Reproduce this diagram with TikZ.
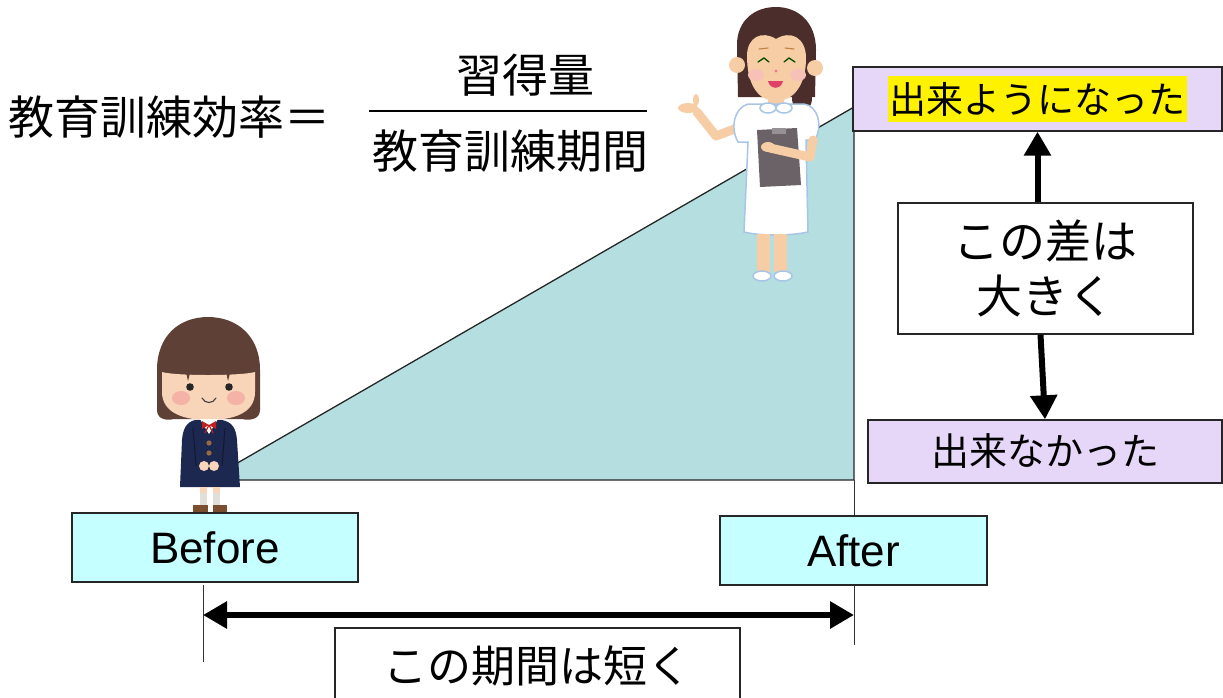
\documentclass[tikz,border=0pt]{standalone}
\usepackage{fontspec}
\setmainfont{Liberation Sans}
\newfontfamily\jp{Noto Sans CJK JP}
\usetikzlibrary{arrows.meta}

\definecolor{tri}{RGB}{180,222,224}
\definecolor{cyanbox}{RGB}{198,255,255}
\definecolor{lav}{RGB}{230,214,248}
\definecolor{hair}{RGB}{94,64,54}
\definecolor{nhair}{RGB}{75,46,43}
\definecolor{skin}{RGB}{248,212,184}
\definecolor{nskin}{RGB}{247,205,165}
\definecolor{navy}{RGB}{28,40,80}
\definecolor{cheek}{RGB}{245,178,166}
\definecolor{bow}{RGB}{192,33,31}
\definecolor{btn}{RGB}{155,106,60}
\definecolor{sock}{RGB}{224,224,216}
\definecolor{shoe}{RGB}{122,78,46}
\definecolor{outl}{RGB}{169,197,230}
\definecolor{board}{RGB}{106,98,102}
\definecolor{mouth}{RGB}{224,64,106}

\tikzset{
  box/.style={draw=black!85, line width=1.4pt, inner sep=0pt},
  bigarrow/.style={line width=6pt, -{Triangle[length=24pt,width=26pt]}},
  bothway/.style={line width=6pt, {Triangle[length=24pt,width=26pt]}-{Triangle[length=24pt,width=26pt]}},
  tick/.style={line width=1pt, black!80},
  jpbig/.style={font=\jp\fontsize{46pt}{55pt}\selectfont},
  jpmid/.style={font=\jp\fontsize{44pt}{55pt}\selectfont},
  jpsmall/.style={font=\jp\fontsize{37pt}{44pt}\selectfont},
  latin/.style={font=\fontsize{44pt}{50pt}\selectfont},
  dress/.style={fill=white, draw=outl, line width=1.5pt},
}

\begin{document}
\begin{tikzpicture}[x=1pt, y=-1pt]
\useasboundingbox (0,0) rectangle (1223,697);

% growth triangle
\coordinate (t0) at (208,480);
\coordinate (t1) at (854,480);
\coordinate (t2) at (854,107);
\filldraw[fill=tri, draw=black!85, line width=1.3pt] (t0) -- (t1) -- (t2) -- cycle;

% time markers
\coordinate (rTop) at (854,480);
\coordinate (rBot) at (854,645);
\coordinate (lTop) at (203,585);
\coordinate (lBot) at (203,662);
\draw[tick] (rTop) -- (rBot);
\draw[tick] (lTop) -- (lBot);

% formula
\node[jpbig, anchor=west, inner sep=0pt] (eff) at (8,117) {教育訓練効率＝};
\node[jpbig, inner sep=0pt] (num) at (525,75) {習得量};
\node[jpbig, inner sep=0pt] (den) at (510,151) {教育訓練期間};
\coordinate (fracL) at (369,111);
\coordinate (fracR) at (647,111);
\draw[line width=2.8pt] (fracL) -- (fracR);

% result boxes on the right
\node[box, fill=lav, minimum width=369pt, minimum height=64pt] (good) at (1037.5,99) {};
\node[jpsmall, fill=yellow, inner xsep=1.5pt, inner ysep=0pt, minimum height=46pt] (goodtxt) at (good.center) {出来ようになった};
\node[box, fill=white, minimum width=295pt, minimum height=131pt, align=center, jpbig] (diff) at (1045.5,268.5) {この差は\\大きく};
\node[box, fill=lav, minimum width=354pt, minimum height=63pt, font=\jp\fontsize{38pt}{44pt}\selectfont] (bad) at (1045,451.5) {出来なかった};

\draw[bigarrow] (diff.north -| good.south) -- (good.south);
\draw[bigarrow] ([xshift=-5pt]diff.south) -- (bad.north);

% before / after labels
\node[box, fill=cyanbox, minimum width=286pt, minimum height=69pt, latin] (before) at (215,547.5) {Before};
\node[box, fill=cyanbox, minimum width=267pt, minimum height=69pt, latin] (after) at (853.5,550.5) {After};

% training period
\coordinate (pL) at (203,615);
\coordinate (pR) at (854,615);
\draw[bothway] (pL) -- (pR);
\node[box, fill=white, minimum width=405pt, minimum height=76pt, jpmid] (period) at (537.5,666) {この期間は短く};

% ---- schoolgirl (before) ----
\fill[hair] (157,410) -- (157,370) .. controls (157,335) and (180,317) .. (208,317)
  .. controls (236,317) and (260,335) .. (260,370) -- (260,410)
  .. controls (260,419) and (250,421) .. (242,419) -- (174,419)
  .. controls (166,421) and (157,419) .. (157,410) -- cycle;
\fill[skin] (162,372) -- (162,392) .. controls (162,414) and (186,420) .. (208,420)
  .. controls (232,420) and (255,414) .. (255,392) -- (255,372)
  .. controls (240,376) and (176,376) .. (162,372) -- cycle;
\fill[hair] (186,372) -- (188,381) -- (190,373) -- cycle;
\fill[hair] (226,372) -- (228,381) -- (230,373) -- cycle;
\fill[cheek] (181,398) ellipse [x radius=9, y radius=7];
\fill[cheek] (236,398) ellipse [x radius=9, y radius=7];
\fill[black!85] (190,387) circle [radius=3.8];
\fill[black!85] (229,387) circle [radius=3.8];
\draw[line width=1.1pt, black!75, line cap=round] (202,398) .. controls (205,404) and (213,404) .. (216,398);
\fill[navy] (195,420) -- (222,420) .. controls (232,422) and (236,428) .. (237,440)
  -- (240,487) -- (180,487) -- (182,440) .. controls (183,428) and (187,422) .. (195,420) -- cycle;
\fill[white] (200,419) -- (218,419) -- (209,434) -- cycle;
\fill[bow] (209,425) -- (202,421) -- (202,429) -- cycle;
\fill[bow] (209,425) -- (216,421) -- (216,429) -- cycle;
\draw[bow, line width=1.2pt] (209,425) -- (205,433) (209,425) -- (213,433);
\fill[btn] (209,443) circle [radius=2.6];
\fill[btn] (209,453) circle [radius=2.6];
\draw[navy!60!black, line width=1pt] (193,428) -- (196,466) (225,428) -- (222,466);
\fill[skin] (204,466) circle [radius=5];
\fill[skin] (214,466) circle [radius=5];
\fill[skin] (200,487) rectangle (207,493);
\fill[skin] (213,487) rectangle (220,493);
\fill[sock] (200,493) rectangle (207,506);
\fill[sock] (213,493) rectangle (220,506);
\fill[shoe] (193,505) rectangle (208,512);
\fill[shoe] (213,505) rectangle (227,512);

% ---- nurse (after) ----
\fill[nhair] (802,98) ellipse [x radius=10, y radius=14];
\fill[nhair] (738,97) -- (737,45) .. controls (737,20) and (755,7) .. (776,7)
  .. controls (798,7) and (816,22) .. (816,50) -- (815,97) -- cycle;
\fill[nskin] (737,65) circle [radius=8];
\fill[nskin] (815,68) circle [radius=8];
\fill[nskin] (747,56) .. controls (747,37) and (762,30) .. (776,39)
  .. controls (790,30) and (806,37) .. (806,58)
  .. controls (806,86) and (793,101) .. (776,101)
  .. controls (759,101) and (747,86) .. (747,56) -- cycle;
\fill[cheek!80] (756,75) ellipse [x radius=8, y radius=6];
\fill[cheek!80] (798,75) ellipse [x radius=8, y radius=6];
\draw[green!30!black, line width=1.3pt, line cap=round] (758,62) -- (764,58) -- (769,62);
\draw[green!30!black, line width=1.3pt, line cap=round] (784,62) -- (789,58) -- (795,62);
\draw[brown, line width=1.1pt, line cap=round] (759,49) -- (768,48) (785,48) -- (794,49);
\fill[mouth!70] (776,71) circle [radius=1.6];
\fill[mouth] (768,81) .. controls (770,90) and (781,90) .. (783,81) -- cycle;
\fill[nskin] (768,97) rectangle (784,107);
% pointing arm
\draw[nskin, line width=9pt, line cap=round, line join=round] (737,128) -- (716,136) -- (697,112);
\fill[nskin] (688,108) ellipse [x radius=10, y radius=5];
\fill[nskin] (696,100) ellipse [x radius=3, y radius=6];
% dress
\filldraw[dress] (748,104) -- (804,104) .. controls (818,106) and (823,125) .. (815,140)
  -- (806,140) -- (808,232) .. controls (790,236) and (760,236) .. (744,232)
  -- (748,142) -- (738,142) .. controls (730,128) and (734,108) .. (748,104) -- cycle;
\filldraw[dress] (768,108) ellipse [x radius=8, y radius=5];
\filldraw[dress] (784,108) ellipse [x radius=8, y radius=5];
% clipboard
\fill[board] (757,130) -- (797,128) -- (801,185) -- (760,187) -- cycle;
\fill[board!70!white] (772,128) rectangle (786,134);
% holding arm
\draw[nskin, line width=9pt, line cap=round, line join=round] (813,140) -- (810,157) -- (770,148);
\fill[nskin] (768,147) ellipse [x radius=7, y radius=5];
% legs and shoes
\fill[nskin] (757,234) rectangle (770,272);
\fill[nskin] (774,234) rectangle (787,272);
\filldraw[dress] (762,276) ellipse [x radius=9, y radius=5];
\filldraw[dress] (783,276) ellipse [x radius=9, y radius=5];
\end{tikzpicture}
\end{document}
